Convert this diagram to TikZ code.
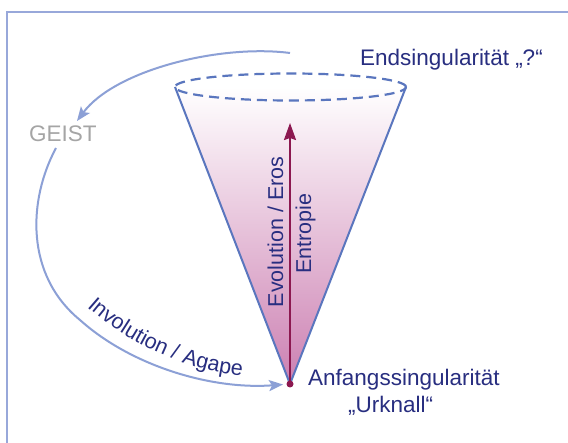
\documentclass[tikz,border=0pt]{standalone}
\usepackage{fontspec}
\setmainfont{Liberation Sans}
\usetikzlibrary{shapes.geometric,arrows.meta,decorations.text}
\definecolor{navy}{RGB}{40,46,128}
\definecolor{framecol}{RGB}{152,168,218}
\definecolor{curvecol}{RGB}{140,160,214}
\definecolor{conecol}{RGB}{90,118,190}
\definecolor{conepink}{RGB}{204,128,178}
\definecolor{arrowred}{RGB}{140,24,80}
\definecolor{geistgray}{RGB}{165,165,165}
\begin{document}
\begin{tikzpicture}[x=1pt,y=1pt,
  lbl/.style={font=\fontsize{22.5}{26}\selectfont, text=navy, inner sep=0pt},
  rlbl/.style={font=\fontsize{21.5}{24}\selectfont, text=navy, inner sep=0pt, rotate=90, anchor=base},
  curvearrow/.style={draw=curvecol, line width=2pt, -{Stealth[length=14pt,width=11pt,inset=3pt]}},
  coneline/.style={draw=conecol, line width=2pt},
]
\useasboundingbox (0,0) rectangle (568,-443);
\fill[white] (0,0) rectangle (568,-443);
\draw[framecol, line width=2.5pt] (7,-443) -- (7,-12) -- (568,-12);

% cone geometry
\coordinate (rimW) at (175,-87);
\coordinate (rimE) at (406,-87);
\coordinate (apexpt) at (290,-384);
\shade[top color=white, bottom color=conepink] (rimW) -- (apexpt) -- (rimE) -- cycle;
\draw[coneline] (rimW) -- (apexpt) -- (rimE);
\node[ellipse, draw=conecol, dash pattern=on 10pt off 6pt, line width=2.2pt,
      minimum width=231pt, minimum height=27pt, inner sep=0pt] (rim) at (290.5,-87) {};

% apex dot and evolution arrow
\node[circle, fill=arrowred, inner sep=0pt, minimum size=7pt] (apex) at (apexpt) {};
\coordinate (tip) at (290,-123);
\draw[arrowred, line width=2pt, -{Stealth[length=17pt,width=12pt,inset=2pt]}] (apex.center) -- (tip);

% labels
\node[lbl, anchor=base west] (endlbl) at (360,-66) {Endsingularität „?“};
\node[lbl, anchor=base west] (anflbl) at (308,-386) {Anfangssingularität};
\node[lbl, anchor=base west] (urklbl) at (348,-413) {„Urknall“};
\node[lbl, text=geistgray, anchor=base west] (geist) at (29,-142) {GEIST};
\node[rlbl] (evo) at (283,-232) {Evolution / Eros};
\node[rlbl] (entr) at (311,-233.5) {Entropie};

% curved arrows
\coordinate (topstart) at (290,-53);
\coordinate (geistin) at (77,-121);
\coordinate (geistout) at (56,-148);
\draw[curvearrow] (topstart) .. controls (220,-44) and (115,-70) .. (geistin);
\draw[curvearrow, shorten >=7pt] (geistout) .. controls (28,-200) and (25,-275) .. (80,-320)
   .. controls (130,-365) and (210,-390) .. (apex.center);

\path[decorate, decoration={text along path,
   text={|\fontsize{21.5}{24}\selectfont\color{navy}|Involution / Agape}}]
   (87,-307) .. controls (130,-345) and (185,-370) .. (245,-376);
\end{tikzpicture}
\end{document}
